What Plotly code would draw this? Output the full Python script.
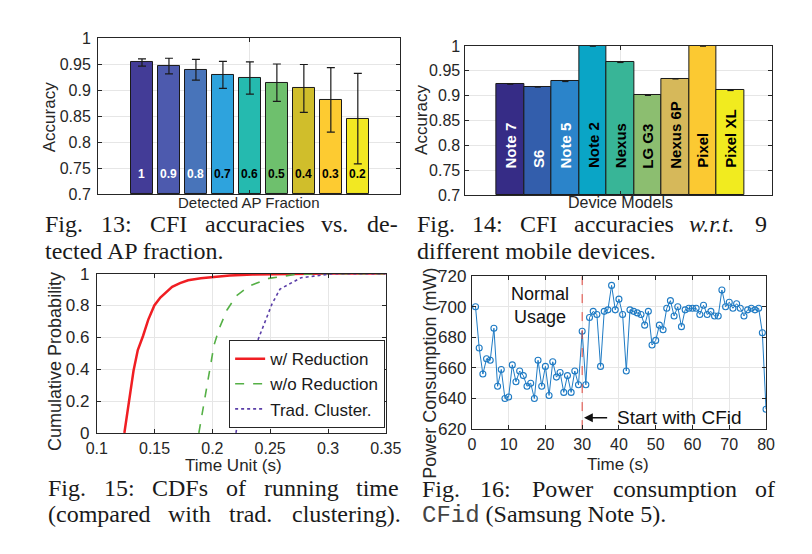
import plotly.graph_objects as go

W, H = 812, 554

# ---------------- data ----------------
# Fig 13
frac_labels = ["1", "0.9", "0.8", "0.7", "0.6", "0.5", "0.4", "0.3", "0.2"]
frac_acc = [0.953, 0.946, 0.939, 0.929, 0.923, 0.914, 0.903, 0.881, 0.845]
frac_err = [0.007, 0.015, 0.020, 0.026, 0.031, 0.036, 0.046, 0.062, 0.087]
frac_colors = ["#433C97", "#4D5AAE", "#4874BA", "#2EA3DD", "#25BAAF",
               "#6EC06D", "#D0BE2B", "#FDCB31", "#F2E822"]
frac_text_colors = ["white", "white", "white", "black", "black",
                    "black", "black", "black", "black"]

# Fig 14
devices = ["Note 7", "S6", "Note 5", "Note 2", "Nexus", "LG G3",
           "Nexus 6P", "Pixel", "Pixel XL"]
dev_acc = [0.9235, 0.9177, 0.9287, 1.0, 0.967, 0.9008, 0.934, 1.0, 0.9106]
dev_err = [0.0004] * 9
dev_colors = ["#362C86", "#335EAC", "#2B84CA", "#0AA5C6", "#38B597",
              "#8CBE70", "#D6B85A", "#FBC932", "#F1EB1F"]
dev_text_colors = ["white", "white", "white", "black", "black",
                   "black", "black", "black", "black"]

# Fig 15 (CDFs)
red_x = [0.1239, 0.128, 0.1318, 0.1355, 0.1401, 0.1445, 0.1498, 0.155,
         0.1652, 0.172, 0.179, 0.19, 0.2014, 0.215, 0.2349, 0.26, 0.30, 0.35]
red_y = [0.0, 0.2, 0.39, 0.52, 0.61, 0.71, 0.80, 0.85,
         0.917, 0.94, 0.958, 0.971, 0.98, 0.988, 0.994, 0.998, 1.0, 1.0]
green_x = [0.1883, 0.1931, 0.1981, 0.2014, 0.2056, 0.2125, 0.2209, 0.2321,
           0.2488, 0.2711, 0.2934, 0.35]
green_y = [0.0, 0.206, 0.408, 0.55, 0.65, 0.77, 0.862, 0.923,
           0.97, 0.994, 1.0, 1.0]
purple_x = [0.2204, 0.2237, 0.2279, 0.2321, 0.2376, 0.246, 0.2516, 0.2585,
            0.2656, 0.2767, 0.2878, 0.2962, 0.3045, 0.35]
purple_y = [0.0, 0.145, 0.267, 0.448, 0.55, 0.711, 0.81, 0.903,
            0.929, 0.974, 0.984, 0.994, 1.0, 1.0]

# Fig 16 (power)
time_s = list(range(1, 81))
power = [700, 673, 656, 666, 665, 686, 648, 659, 640, 641,
         662, 651, 658, 655, 648, 650, 640, 665, 648, 661,
         642, 664, 654, 657, 644, 655, 644, 658, 649, 684,
         649, 693, 697, 695, 661, 697, 698, 714, 698, 705,
         695, 658, 698, 697, 696, 695, 688, 697, 675, 678,
         688, 685, 699, 704, 694, 700, 687, 698, 699, 699,
         699, 695, 701, 695, 697, 694, 694, 711, 700, 703,
         699, 702, 699, 694, 698, 699, 698, 699, 683, 633]

# ---------------- helpers ----------------
def fx(px):
    return px / W

def fy(py):
    return 1 - py / H

AX = "#262626"
GRID = "#E6E6E6"
SANS = "Liberation Sans, Arial, sans-serif"
SERIF = "Liberation Serif, Times New Roman, serif"
MONO = "Liberation Mono, Courier New, monospace"

fig = go.Figure()

pos = list(range(1, 10))
fig.add_trace(go.Bar(
    x=pos, y=[a - 0.7 for a in frac_acc], base=0.7, width=0.8,
    marker=dict(color=frac_colors, line=dict(color="#1a1a1a", width=1)),
    error_y=dict(type="data", array=frac_err, color="#1a1a1a",
                 thickness=1.2, width=4),
    xaxis="x", yaxis="y", showlegend=False, hoverinfo="skip"))

fig.add_trace(go.Bar(
    x=pos, y=[a - 0.7 for a in dev_acc], base=0.7, width=1.0,
    marker=dict(color=dev_colors, line=dict(color="#1a1a1a", width=1)),
    error_y=dict(type="data", array=dev_err, color="#1a1a1a",
                 thickness=1, width=3),
    xaxis="x2", yaxis="y2", showlegend=False, hoverinfo="skip"))

fig.add_trace(go.Scatter(x=red_x, y=red_y, mode="lines", name="w/ Reduction",
                         line=dict(color="#F01E23", width=2.5),
                         xaxis="x3", yaxis="y3"))
fig.add_trace(go.Scatter(x=green_x, y=green_y, mode="lines", name="w/o Reduction",
                         line=dict(color="#55B046", width=1.6, dash="dash"),
                         xaxis="x3", yaxis="y3"))
fig.add_trace(go.Scatter(x=purple_x, y=purple_y, mode="lines", name="Trad. Cluster.",
                         line=dict(color="#5B3FA8", width=1.6, dash="dot"),
                         xaxis="x3", yaxis="y3"))

fig.add_trace(go.Scatter(x=time_s, y=power, mode="lines+markers",
                         line=dict(color="#1F7BC4", width=1),
                         marker=dict(symbol="circle-open", size=6,
                                     color="#1F7BC4", line=dict(width=1.1)),
                         xaxis="x4", yaxis="y4", showlegend=False))
fig.add_trace(go.Scatter(x=[30, 30], y=[620, 720], mode="lines",
                         line=dict(color="#E0443A", width=1, dash="dash"),
                         xaxis="x4", yaxis="y4", showlegend=False))

def axis(domain, rng, tickvals, showlabels=True, size=16, anchor=None, standoff=None):
    d = dict(domain=domain, range=rng, tickvals=tickvals, showticklabels=showlabels,
             showline=True, linecolor=AX, linewidth=1, mirror="ticks",
             ticks="inside", ticklen=4, tickcolor=AX, showgrid=True,
             gridcolor=GRID, gridwidth=1, zeroline=False,
             tickfont=dict(family=SANS, size=size, color=AX))
    if anchor:
        d["anchor"] = anchor
    if standoff is not None:
        d["ticklabelstandoff"] = standoff
    return d

yt_acc = [0.7, 0.75, 0.8, 0.85, 0.9, 0.95, 1.0]
layout = dict(
    width=W, height=H, margin=dict(l=0, r=0, t=0, b=0),
    paper_bgcolor="white", plot_bgcolor="white", bargap=0,
    xaxis=axis([fx(90), fx(402)], [-0.63, 10.55], [5], False, anchor="y"),
    yaxis=axis([fy(191.7), fy(30)], [0.7, 1.0], yt_acc, True, 16, anchor="x",
               standoff=3),
    xaxis2=axis([fx(470), fx(787.3)], [-0.63, 10.51], [5], False, anchor="y2"),
    yaxis2=axis([fy(192.7), fy(38.3)], [0.7, 1.0], yt_acc, True, 16, anchor="x2",
                standoff=1),
    xaxis3=axis([fx(88.7), fx(387.7)], [0.1, 0.35],
                [0.1, 0.15, 0.2, 0.25, 0.3, 0.35], True, 16, anchor="y3", standoff=1),
    yaxis3=axis([fy(439), fy(274)], [0, 1], [0, 0.2, 0.4, 0.6, 0.8, 1], True, 17,
                anchor="x3", standoff=3),
    xaxis4=axis([fx(476.7), fx(781)], [0, 80], list(range(0, 81, 10)), True, 16,
                anchor="y4", standoff=1),
    yaxis4=axis([fy(435), fy(276.7)], [620, 720], [620, 640, 660, 680, 700, 720],
                True, 17, anchor="x4", standoff=1),
    legend=dict(x=fx(387), y=fy(434), xanchor="right", yanchor="bottom",
                bgcolor="white", bordercolor=AX, borderwidth=1,
                font=dict(family=SANS, size=17, color="#1a1a1a"),
                tracegroupgap=0, itemwidth=30),
)
fig.update_layout(**layout)

ann = []
for i, (lab, c) in enumerate(zip(frac_labels, frac_text_colors)):
    ann.append(dict(x=pos[i], y=0.738, xref="x", yref="y", text="<b>%s</b>" % lab,
                    showarrow=False, font=dict(family=SANS, size=12, color=c)))
for i, (lab, c) in enumerate(zip(devices, dev_text_colors)):
    ann.append(dict(x=pos[i], y=0.75, xref="x2", yref="y2", text="<b>%s</b>" % lab,
                    textangle=-90, xanchor="center", yanchor="bottom",
                    showarrow=False, font=dict(family=SANS, size=15, color=c)))

def ptext(x, y, t, size=16, angle=0, family=SANS, color=AX, xanchor="center"):
    ann.append(dict(x=fx(x), y=fy(y), xref="paper", yref="paper", text=t,
                    textangle=angle, showarrow=False, xanchor=xanchor,
                    yanchor="middle", font=dict(family=family, size=size, color=color)))

# axis titles
ptext(245.7, 200, "Detected AP Fraction", 15)
ptext(40.7, 111.7, "Accuracy", 17, -90)
ptext(630, 200, "Device Models", 16)
ptext(424, 115, "Accuracy", 17, -90)
ptext(230, 472.5, "Time Unit (s)", 17)
ptext(46, 365, "Cumulative Probability", 18, -90)
ptext(628.3, 472, "Time (s)", 17)
ptext(433.3, 376.7, "Power Consumption (mW)", 18, -90)

# annotations in fig 16
ann.append(dict(x=18.4, y=701, xref="x4", yref="y4", text="Normal<br>Usage",
                showarrow=False, font=dict(family=SANS, size=18, color="#111")))
ann.append(dict(x=30.5, y=627.4, ax=37.2, ay=627.4, xref="x4", yref="y4",
                axref="x4", ayref="y4", text="", showarrow=True, arrowhead=2,
                arrowsize=1.1, arrowwidth=1.6, arrowcolor="#111"))
ann.append(dict(x=39.0, y=627.4, xref="x4", yref="y4", text="Start with CFid",
                xanchor="left", showarrow=False,
                font=dict(family=SANS, size=19, color="#111")))

# ---------------- captions (justified, Times metrics) ----------------
TW = {c: 0.5 for c in "0123456789"}
TW.update({"a": .444, "b": .5, "c": .444, "d": .5, "e": .444, "f": .333, "g": .5,
           "h": .5, "i": .278, "j": .278, "k": .5, "l": .278, "m": .778, "n": .5,
           "o": .5, "p": .5, "q": .5, "r": .333, "s": .389, "t": .278, "u": .5,
           "v": .5, "w": .722, "x": .5, "y": .5, "z": .444,
           "A": .722, "C": .667, "D": .722, "F": .556, "I": .333, "N": .722,
           "P": .556, "S": .556, ".": .25, ":": .278, "-": .333, "(": .333,
           ")": .333, " ": .25})
TWI = {"w": .667, "r": .389, "t": .278, ".": .25}
CAP = 24

def ymid(baseline):
    return fy(baseline - 0.3375 * CAP)

def wwidth(word, italic=False):
    tab = TWI if italic else TW
    return sum(tab.get(ch, 0.5) for ch in word) * CAP

def cap_line(words, x0, x1, baseline):
    widths = [wwidth(t, st == "i") for t, st in words]
    gap = (x1 - x0 - sum(widths)) / (len(words) - 1)
    x = x0
    for (t, st), w in zip(words, widths):
        txt = "<i>%s</i>" % t if st == "i" else t
        ann.append(dict(x=fx(x), y=ymid(baseline), xref="paper", yref="paper",
                        text=txt, showarrow=False, xanchor="left", yanchor="middle",
                        font=dict(family=SERIF, size=CAP, color="#1a1a1a")))
        x += w + gap

def cap_plain(text, x0, baseline):
    ann.append(dict(x=fx(x0), y=ymid(baseline), xref="paper", yref="paper",
                    text=text, showarrow=False, xanchor="left", yanchor="middle",
                    font=dict(family=SERIF, size=CAP, color="#1a1a1a")))

def words(s):
    return [(w, "") for w in s.split(" ")]

cap_line(words("Fig. 13: CFI accuracies vs. de-"), 33, 397, 231)
cap_plain("tected AP fraction.", 33, 259)
cap_line(words("Fig. 14: CFI accuracies") + [("w.r.t.", "i"), ("9", "")],
         418, 780, 231)
cap_plain("different mobile devices.", 418, 259)
cap_line(words("Fig. 15: CDFs of running time"), 36, 397, 504)
cap_line(words("(compared with trad. clustering)."), 36, 397, 531)
cap_line(words("Fig. 16: Power consumption of"), 423, 787, 505)
cap_plain("<span style='font-family:Liberation Mono, Courier New, monospace;"
          "color:#444'>CFid</span> (Samsung Note 5).", 423, 532)

fig.update_layout(annotations=ann)
fig.write_html("out.html", config={"displayModeBar": False},
               post_script="document.body.style.margin='0px';"
                           "document.body.style.overflow='hidden';")
